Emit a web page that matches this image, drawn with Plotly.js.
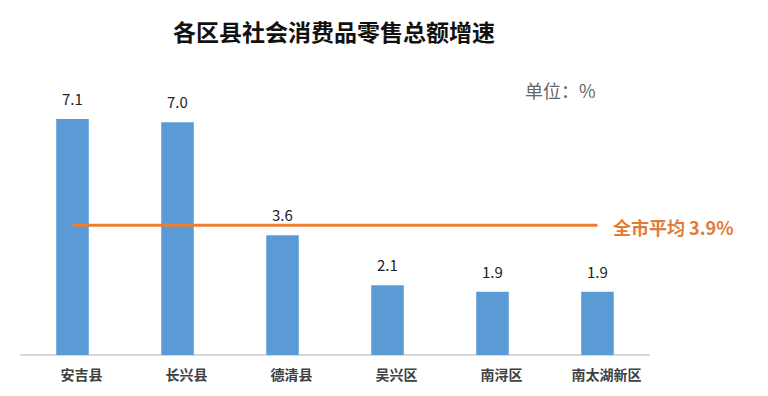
<!DOCTYPE html>
<html>
<head>
<meta charset="utf-8">
<script src="https://cdn.plot.ly/plotly-3.0.1.min.js"></script>
<style>html,body{margin:0;padding:0;background:#fff;}#chart{width:768px;height:396px;}</style>
</head>
<body>
<div id="chart"></div>
<script>
var categories = ['安吉县', '长兴县', '德清县', '吴兴区', '南浔区', '南太湖新区'];
var growth = [7.1, 7.0, 3.6, 2.1, 1.9, 1.9];
var cityAverage = 3.9;
var averageLabel = '全市平均 3.9%';
var unitLabel = '单位：%';
var chartTitle = '各区县社会消费品零售总额增速';

var FONT = '"Noto Sans CJK SC", "Microsoft YaHei", sans-serif';

var barTrace = {
  type: 'bar',
  x: categories,
  y: growth,
  width: 0.31,
  marker: {color: '#5B9BD5'},
  hoverinfo: 'x+y',
  showlegend: false
};

var avgTrace = {
  type: 'scatter',
  mode: 'lines',
  x: categories,
  y: categories.map(function(){ return cityAverage; }),
  line: {color: '#ED7D31', width: 3},
  showlegend: false
};

var annotations = categories.map(function(c, i){
  return {
    x: c, y: growth[i], xref: 'x', yref: 'y',
    text: growth[i].toFixed(1), showarrow: false,
    yanchor: 'bottom', yshift: 8,
    font: {family: FONT, size: 15, color: '#222'}
  };
});
annotations.push({
  x: categories[categories.length - 1], y: cityAverage, xref: 'x', yref: 'y',
  text: '<b>' + averageLabel + '</b>', showarrow: false,
  xanchor: 'left', xshift: 13, yanchor: 'middle', yshift: -2,
  font: {family: FONT, size: 18, color: '#E07B39'}
});
annotations.push({
  xref: 'paper', yref: 'paper', x: (560 - 20) / 630, y: (355 - 90) / 266,
  text: unitLabel, showarrow: false, xanchor: 'center', yanchor: 'middle',
  font: {family: FONT, size: 18, color: '#666666'}
});

var layout = {
  width: 768, height: 396,
  margin: {l: 20, r: 118, t: 89, b: 41},
  paper_bgcolor: '#fff', plot_bgcolor: '#fff',
  title: {
    text: '<b>' + chartTitle + '</b>',
    x: 334 / 768, xanchor: 'center', y: 1 - 33 / 396, yanchor: 'middle',
    font: {family: FONT, size: 23, color: '#111'}
  },
  xaxis: {
    range: [-0.5, 5.5], showgrid: false, zeroline: false,
    showline: false, ticks: '', ticklabelstandoff: 10, ticklabelshift: 9,
    tickfont: {family: FONT, size: 14, color: '#404040', weight: 'bold'},
    fixedrange: true
  },
  yaxis: {
    range: [0, 8], showgrid: false, zeroline: true, zerolinecolor: '#d9d9d9', zerolinewidth: 1.5,
    showticklabels: false, ticks: '', showline: false, fixedrange: true
  },
  annotations: annotations,
  bargap: 0.69
};

Plotly.newPlot('chart', [barTrace, avgTrace], layout, {displayModeBar: false, staticPlot: true});
</script>
</body>
</html>
